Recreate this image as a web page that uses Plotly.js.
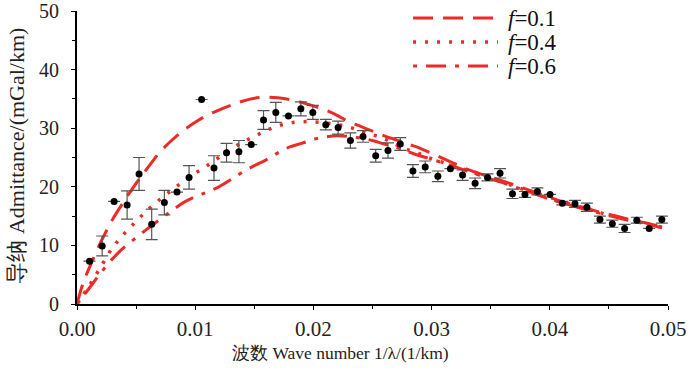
<!DOCTYPE html>
<html>
<head>
<meta charset="utf-8">
<script src="https://cdn.plot.ly/plotly-3.0.1.min.js"></script>
<style>html,body{margin:0;padding:0;background:#fff;}#chart{width:700px;height:387px;}</style>
</head>
<body>
<div id="chart"></div>
<script>
// Observed admittance
const obsX = [0.00106,0.00213,0.00314,0.00424,0.00525,0.00632,0.00739,0.00846,0.00948,0.01054,
  0.01159,0.01265,0.0137,0.01474,0.01578,0.01682,0.01789,0.01894,0.01995,0.02105,
  0.02209,0.02313,0.0242,0.02527,0.02631,0.02735,0.02842,0.02946,0.03053,0.03159,
  0.03262,0.03368,0.03473,0.03579,0.03684,0.0379,0.03895,0.04002,0.04106,0.04213,
  0.04314,0.04424,0.04529,0.04633,0.04736,0.04841,0.04948];
const obsY = [7.3,9.9,17.5,16.9,22.2,13.6,17.3,19.1,21.6,34.9,
  23.2,25.8,26.0,27.2,31.4,32.7,32.1,33.3,32.7,30.6,
  30.1,27.9,28.6,25.3,26.2,27.3,22.7,23.4,21.8,23.1,
  22.0,20.6,21.6,22.3,18.8,18.7,19.2,18.7,17.2,17.1,
  16.5,14.4,13.7,12.9,14.3,12.9,14.4];
const obsErr = [0,1.7,0,2.4,2.8,2.6,2.1,0,2.0,0,
  2.1,1.6,1.9,0,1.6,1.7,0,1.2,1.2,0.9,
  1.1,1.3,1.0,1.1,1.3,1.1,1.1,1.0,0.9,0,
  0.9,0.9,0.6,0.8,0.8,0.5,0.6,0,0.3,0.6,
  0.7,0.6,0.6,0.7,0.5,0,0.6];

// Model curves
const f01X = [0,0.0005,0.001,0.002,0.003,0.004,0.005,0.006,0.007,0.008,0.009,0.010,0.011,0.012,0.013,0.014,0.015,0.016,0.017,0.018,0.019,0.020,0.021,0.022,0.023,0.024,0.025,0.026,0.027,0.028,0.029,0.030,0.031,0.032,0.033,0.034,0.035,0.036,0.037,0.038,0.039,0.040,0.041,0.042,0.043,0.044,0.045,0.046,0.047,0.048,0.049,0.0495];
const f01Y = [0,3.5,6.0,10.5,14.4,17.6,20.6,23.3,25.9,27.9,29.6,31.0,32.2,33.1,33.9,34.6,35.1,35.3,35.2,34.9,34.4,33.8,33.1,32.2,31.1,30.3,29.5,28.7,28.0,27.3,26.6,25.7,24.8,23.9,23.0,22.3,21.6,21.0,20.3,19.6,18.9,18.2,17.5,16.9,16.4,15.8,15.3,14.8,14.3,13.9,13.4,13.2];
const f04X = [0,0.001,0.002,0.003,0.004,0.005,0.006,0.007,0.008,0.009,0.010,0.011,0.012,0.013,0.014,0.015,0.016,0.017,0.018,0.019,0.020,0.021,0.022,0.023,0.024,0.025,0.026,0.027,0.028,0.029,0.030,0.032,0.034,0.036,0.038,0.040,0.042,0.044,0.046,0.048,0.0495];
const f04Y = [0,3.0,6.3,9.6,12.0,14.1,16.1,17.8,19.4,20.9,22.3,23.6,25.0,26.4,27.6,28.6,29.6,30.4,30.9,31.1,31.1,30.9,30.6,30.2,29.5,28.9,28.2,27.2,26.3,25.6,24.8,23.5,22.1,20.8,19.4,18.0,16.8,15.7,14.7,13.8,13.1];
const f06X = [0,0.001,0.002,0.003,0.004,0.005,0.006,0.007,0.008,0.009,0.010,0.011,0.012,0.013,0.014,0.015,0.016,0.017,0.018,0.019,0.020,0.021,0.022,0.023,0.024,0.025,0.026,0.027,0.028,0.029,0.030,0.032,0.034,0.036,0.038,0.040,0.042,0.044,0.046,0.048,0.0495];
const f06Y = [0,2.6,5.3,7.7,9.7,11.3,12.9,14.4,15.9,17.3,18.3,19.1,20.0,21.2,22.5,23.6,24.6,25.8,26.8,27.4,28.1,28.5,28.7,28.6,28.3,27.9,27.3,26.7,26.0,25.3,24.7,23.4,22.0,20.7,19.3,17.9,16.7,15.6,14.6,13.7,13.0];

const legendLabels = ['<i>f</i>=0.1','<i>f</i>=0.4','<i>f</i>=0.6'];
const xTickVals = [0,0.01,0.02,0.03,0.04,0.05];
const yTickVals = [0,10,20,30,40,50];

const RED = '#ec2b26';
const dashes = ['20px,10px','3px,9px','4px,9px,20px,9px'];
const SERIF = '"Liberation Serif", "Times New Roman", serif';

const traces = [
  {x:f01X,y:f01Y,mode:'lines',line:{color:RED,width:3,dash:dashes[0],shape:'spline'},name:legendLabels[0],showlegend:false,hoverinfo:'skip'},
  {x:f04X,y:f04Y,mode:'lines',line:{color:RED,width:3.5,dash:dashes[1],shape:'spline'},name:legendLabels[1],showlegend:false,hoverinfo:'skip'},
  {x:f06X,y:f06Y,mode:'lines',line:{color:RED,width:3,dash:dashes[2],shape:'spline'},name:legendLabels[2],showlegend:false,hoverinfo:'skip'},
  {x:obsX,y:obsY,mode:'markers',marker:{color:'#000',size:7},
   error_y:{type:'data',array:obsErr,visible:true,color:'#555',thickness:1.2,width:6},
   showlegend:false}
];

// Custom legend (paper coordinates)
const L = 76.5, W = 591.8, B = 304, H = 293;
const px = v => (v - L) / W;
const py = v => (B - v) / H;
const legRows = [18, 42, 66];
const shapes = legRows.map((r,i) => ({
  type:'line', xref:'paper', yref:'paper',
  x0:px(413), x1:px(498), y0:py(r), y1:py(r),
  line:{color:RED,width: i===1?3.5:3,dash:dashes[i]}
}));
const annotations = legRows.map((r,i) => ({
  xref:'paper', yref:'paper', x:px(506), y:py(r), xanchor:'left', yanchor:'middle',
  text:legendLabels[i], showarrow:false, font:{family:SERIF,size:23,color:'#111'}
}));
annotations.push({
  xref:'paper', yref:'paper', x:px(340), y:py(353), xanchor:'center', yanchor:'middle',
  text:'波数 Wave number 1/λ/(1/km)', showarrow:false,
  font:{family:SERIF,size:17.5,color:'#222'}
});
annotations.push({
  xref:'paper', yref:'paper', x:px(15), y:py(156), xanchor:'center', yanchor:'middle',
  text:'导纳 Admittance/(mGal/km)', showarrow:false, textangle:-90,
  font:{family:SERIF,size:22,color:'#222'}
});

const layout = {
  width:700, height:387,
  margin:{l:76.5, r:31.7, t:11, b:83},
  paper_bgcolor:'#fff', plot_bgcolor:'#fff',
  showlegend:false,
  xaxis:{range:[0,0.05], tickvals:xTickVals, tickformat:'.2f',
    showgrid:false, zeroline:false, showline:true, linecolor:'#000', linewidth:2,
    ticks:'outside', ticklen:4, tickcolor:'#000', tickwidth:1,
    ticklabeloverflow:'allow', ticklabelstandoff:1,
    minor:{dtick:0.005, ticks:'outside', ticklen:3, tickcolor:'#000'},
    tickfont:{family:SERIF,size:21,color:'#222'}},
  yaxis:{range:[0,50], tickvals:yTickVals,
    showgrid:false, zeroline:false, showline:true, linecolor:'#000', linewidth:2,
    ticks:'outside', ticklen:4, tickcolor:'#000', tickwidth:1,
    ticklabeloverflow:'allow', ticklabelstandoff:8,
    minor:{dtick:5, ticks:'outside', ticklen:3, tickcolor:'#000'},
    tickfont:{family:SERIF,size:20,color:'#222'}},
  shapes:shapes,
  annotations:annotations
};

Plotly.newPlot('chart', traces, layout, {displayModeBar:false, staticPlot:true});
</script>
</body>
</html>
